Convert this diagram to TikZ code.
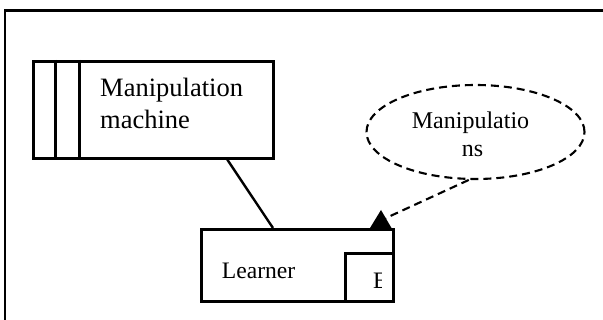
\documentclass[tikz,border=0pt]{standalone}
\usepackage{fontspec}
\setmainfont{Liberation Serif}
\usetikzlibrary{shapes.geometric,calc}
\tikzset{
  boxline/.style={draw, line width=2.6pt},
  plainbox/.style={boxline, rectangle, inner sep=0pt, anchor=north west},
  txt/.style={inner sep=0pt, anchor=base west},
  dashy/.style={line width=2.1pt, dash pattern=on 8pt off 5pt},
}
\begin{document}
\begin{tikzpicture}[x=1pt,y=-1pt]
\useasboundingbox (0,0) rectangle (603,320);
% frame (open to right and bottom)
\draw[line width=2.8pt] (5,322) -- (5,10.5) -- (605,10.5);
% manipulation machine
\node[plainbox, minimum width=240pt, minimum height=97pt] (mach) at (32,60) {};
\draw[boxline] (55.5,60) -- (55.5,157);
\draw[boxline] (79.5,60) -- (79.5,157);
\node[txt, font=\fontsize{26.5}{31.6}\selectfont] (machtxt1) at (100,96.7) {Manipulation};
\node[txt, font=\fontsize{26.5}{31.6}\selectfont] (machtxt2) at (100,128.3) {machine};
% learner
\node[plainbox, minimum width=192pt, minimum height=72pt] (learn) at (200,228) {};
\node[plainbox, minimum width=48pt, minimum height=48pt] (small) at (344,252) {};
\node[txt, font=\fontsize{23.6}{28}\selectfont] (learntxt) at (221.7,278.3) {Learner};
\begin{scope}
\clip (345,253) rectangle (381.5,299);
\node[txt, font=\fontsize{23.6}{28}\selectfont] (eglyph) at (373,288.3) {E};
\end{scope}
% manipulations ellipse
\node[ellipse, draw, dashy, minimum width=218pt, minimum height=94pt, inner sep=0pt] (ell) at (475.5,132) {};
\node[txt, font=\fontsize{24}{28.4}\selectfont] (elltxt1) at (411.7,128.3) {Manipulatio};
\node[txt, font=\fontsize{24}{28.4}\selectfont] (elltxt2) at (461.7,156.7) {ns};
% connectors
\draw[line width=2.4pt] ($(mach.south west)!0.805!(mach.south east)$) -- ($(learn.north west)!0.375!(learn.north east)$);
\coordinate (tip) at (386,218);
\draw[dashy] (ell.262) -- (tip);
\fill (370,228) -- (381,210) -- (391.5,228) -- cycle;
\end{tikzpicture}
\end{document}
